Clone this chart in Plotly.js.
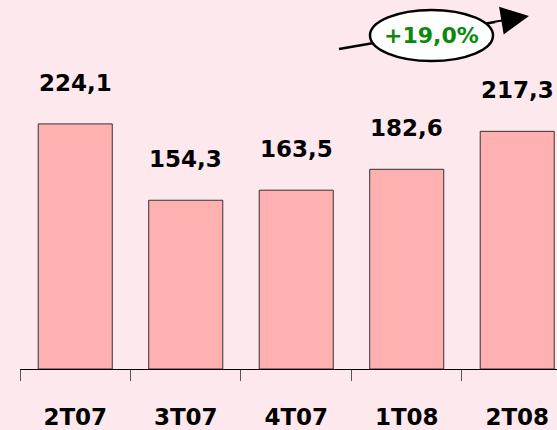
<!DOCTYPE html>
<html>
<head>
<meta charset="utf-8">
<script src="https://cdn.plot.ly/plotly-3.0.1.min.js"></script>
<style>
html,body{margin:0;padding:0;background:#fde9ed;}
#chart{width:557px;height:430px;}
</style>
</head>
<body>
<div id="chart"></div>
<script>
var categories = ['2T07', '3T07', '4T07', '1T08', '2T08'];
var values = [224.1, 154.3, 163.5, 182.6, 217.3];
var growthLabel = '+19,0%';

var FONT = 'DejaVu Sans, Verdana, sans-serif';
var W = 557, H = 430, ML = 20, MB = 61;
var PW = W - ML, PH = H - MB;
function px(x) { return (x - ML) / PW; }
function py(y) { return (PH - y) / PH; }

var trace = {
  type: 'bar',
  x: categories,
  y: values,
  marker: { color: '#ffb1b1', line: { color: '#333333', width: 1 } },
  hoverinfo: 'skip'
};

var annotations = values.map(function (v, i) {
  return {
    x: categories[i], y: v, xref: 'x', yref: 'y',
    text: v.toFixed(1).replace('.', ','),
    showarrow: false, yanchor: 'bottom', yshift: 26,
    font: { family: FONT, size: 23, color: '#000000', weight: 'bold' }
  };
});

annotations.push({
  xref: 'paper', yref: 'paper', x: px(529), y: py(16),
  ax: 493 - 529, ay: 22 - 16, axref: 'pixel', ayref: 'pixel',
  text: '', showarrow: true, arrowhead: 2, arrowsize: 2.8, arrowwidth: 2, arrowcolor: '#000000'
});
annotations.push({
  xref: 'paper', yref: 'paper', x: px(431), y: py(36),
  xanchor: 'center', yanchor: 'middle',
  text: growthLabel, showarrow: false,
  font: { family: FONT, size: 22, color: '#0a8a0a', weight: 'bold' }
});

var layout = {
  width: W, height: H,
  paper_bgcolor: '#fde9ed', plot_bgcolor: '#fde9ed',
  margin: { l: ML, r: 0, t: 0, b: MB, pad: 0 },
  showlegend: false,
  bargap: 0.33,
  xaxis: {
    type: 'category',
    range: [-0.5, 4.36],
    showline: true, linecolor: '#000000', linewidth: 1,
    ticks: 'outside', ticklen: 11, tickcolor: '#555555', tickwidth: 1,
    tickson: 'boundaries',
    ticklabelstandoff: 27,
    tickfont: { family: FONT, size: 23, color: '#000000', weight: 'bold' },
    showgrid: false, zeroline: false, fixedrange: true
  },
  yaxis: {
    range: [0, 337.4],
    visible: false, showgrid: false, zeroline: false, fixedrange: true
  },
  shapes: [
    { type: 'line', xref: 'paper', yref: 'paper',
      x0: px(339), y0: py(49), x1: px(495), y1: py(22),
      line: { color: '#000000', width: 2.5 } },
    { type: 'circle', xref: 'paper', yref: 'paper',
      x0: px(370), x1: px(493), y0: py(61), y1: py(10),
      fillcolor: '#ffffff', line: { color: '#000000', width: 2.5 } }
  ],
  annotations: annotations
};

Plotly.newPlot('chart', [trace], layout, { displayModeBar: false, staticPlot: true });
</script>
</body>
</html>
